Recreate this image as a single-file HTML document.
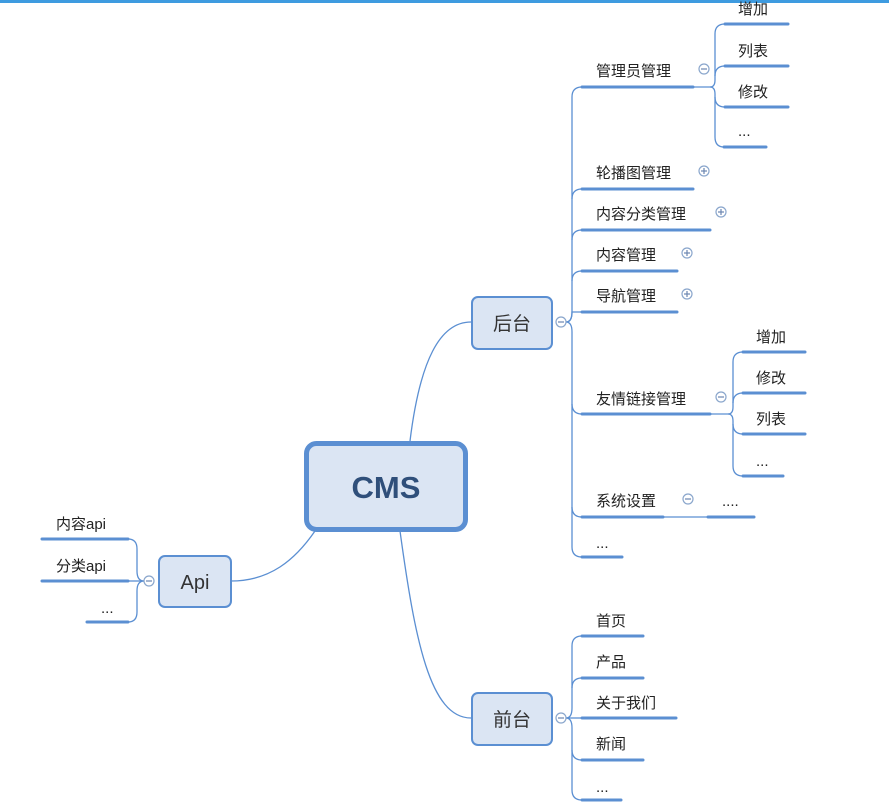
<!DOCTYPE html>
<html><head><meta charset="utf-8"><style>
html,body{margin:0;padding:0;background:#fff;width:889px;height:811px;overflow:hidden}
svg text{font-family:"Liberation Sans","Noto Sans CJK SC",sans-serif;font-size:15px;fill:#222}
</style></head><body>
<svg width="889" height="811" viewBox="0 0 889 811" xmlns="http://www.w3.org/2000/svg">
<rect x="0" y="0" width="889" height="3" fill="#3e9be0"/>
<g fill="none" stroke="#5b8fd2" stroke-width="1.3">
<path d="M410,441 C420,360 440,322 471,322"/>
<path d="M231,581 C270,581 295,560 315,531"/>
<path d="M400,531 C415,640 430,718 471,718"/>
<!-- 后台 trunk -->
<path d="M566,322 Q572,322 572,312 L572,97 Q572,87 582,87"/>
<path d="M572,199 Q572,189 582,189"/>
<path d="M572,240 Q572,230 582,230"/>
<path d="M572,281 Q572,271 582,271"/>
<path d="M566,322 Q572,322 572,312 Q572,312 582,312"/>
<path d="M566,322 Q572,322 572,332 L572,547 Q572,557 582,557"/>
<path d="M572,404 Q572,414 582,414"/>
<path d="M572,507 Q572,517 582,517"/>
<!-- 管理员 sub -->
<path d="M693,87 L710,87 Q715,87 715,80 L715,34 Q715,24 725,24"/>
<path d="M715,76 Q715,66 725,66"/>
<path d="M710,87 Q715,87 715,94 L715,137 Q715,147 724,147"/>
<path d="M715,97 Q715,107 725,107"/>
<!-- 友情 sub -->
<path d="M710,414 L728,414 Q733,414 733,407 L733,362 Q733,352 743,352"/>
<path d="M733,403 Q733,393 743,393"/>
<path d="M728,414 Q733,414 733,421 L733,466 Q733,476 743,476"/>
<path d="M733,424 Q733,434 743,434"/>
<path d="M663,517 L708,517"/>
<!-- 前台 -->
<path d="M566,718 Q572,718 572,708 L572,646 Q572,636 582,636"/>
<path d="M572,688 Q572,678 582,678"/>
<path d="M566,718 L582,718"/>
<path d="M566,718 Q572,718 572,728 L572,790 Q572,800 582,800"/>
<path d="M572,750 Q572,760 582,760"/>
<!-- Api -->
<path d="M144,581 Q137,581 137,571 L137,549 Q137,539 128,539"/>
<path d="M144,581 L128,581"/>
<path d="M144,581 Q137,581 137,591 L137,612 Q137,622 128,622"/>
</g>
<g stroke="#5b8fd2" stroke-width="3" stroke-linecap="round">
<line x1="582" y1="87" x2="693" y2="87"/>
<line x1="725" y1="24" x2="788" y2="24"/>
<line x1="725" y1="66" x2="788" y2="66"/>
<line x1="725" y1="107" x2="788" y2="107"/>
<line x1="724" y1="147" x2="766" y2="147"/>
<line x1="582" y1="189" x2="693" y2="189"/>
<line x1="582" y1="230" x2="710" y2="230"/>
<line x1="582" y1="271" x2="677" y2="271"/>
<line x1="582" y1="312" x2="677" y2="312"/>
<line x1="582" y1="414" x2="710" y2="414"/>
<line x1="743" y1="352" x2="805" y2="352"/>
<line x1="743" y1="393" x2="805" y2="393"/>
<line x1="743" y1="434" x2="805" y2="434"/>
<line x1="743" y1="476" x2="783" y2="476"/>
<line x1="582" y1="517" x2="663" y2="517"/>
<line x1="708" y1="517" x2="754" y2="517"/>
<line x1="582" y1="557" x2="622" y2="557"/>
<line x1="582" y1="636" x2="643" y2="636"/>
<line x1="582" y1="678" x2="643" y2="678"/>
<line x1="582" y1="718" x2="676" y2="718"/>
<line x1="582" y1="760" x2="643" y2="760"/>
<line x1="582" y1="800" x2="621" y2="800"/>
<line x1="42" y1="539" x2="128" y2="539"/>
<line x1="42" y1="581" x2="128" y2="581"/>
<line x1="87" y1="622" x2="128" y2="622"/>
</g>
<g fill="#fff" stroke="#8aa6cc" stroke-width="1.2">
<circle cx="561" cy="322" r="5"/><circle cx="561" cy="718" r="5"/><circle cx="149" cy="581" r="5"/>
<circle cx="704" cy="69" r="5"/><circle cx="721" cy="397" r="5"/><circle cx="688" cy="499" r="5"/>
<circle cx="704" cy="171" r="5"/><circle cx="721" cy="212" r="5"/><circle cx="687" cy="253" r="5"/><circle cx="687" cy="294" r="5"/>
</g>
<g stroke="#6a86b0" stroke-width="1.2">
<line x1="558" y1="322" x2="564" y2="322"/><line x1="558" y1="718" x2="564" y2="718"/><line x1="146" y1="581" x2="152" y2="581"/>
<line x1="701" y1="69" x2="707" y2="69"/><line x1="718" y1="397" x2="724" y2="397"/><line x1="685" y1="499" x2="691" y2="499"/>
<line x1="701" y1="171" x2="707" y2="171"/><line x1="704" y1="168" x2="704" y2="174"/>
<line x1="718" y1="212" x2="724" y2="212"/><line x1="721" y1="209" x2="721" y2="215"/>
<line x1="684" y1="253" x2="690" y2="253"/><line x1="687" y1="250" x2="687" y2="256"/>
<line x1="684" y1="294" x2="690" y2="294"/><line x1="687" y1="291" x2="687" y2="297"/>
</g>
<rect x="306.5" y="443.5" width="159" height="86" rx="10" fill="#dbe5f3" stroke="#5b8fd2" stroke-width="5"/>
<text x="386" y="498" text-anchor="middle" style="font-size:31px;font-weight:bold;fill:#2f4f7a">CMS</text>
<rect x="472" y="297" width="80" height="52" rx="6" fill="#dbe5f3" stroke="#5b8fd2" stroke-width="2"/>
<text x="512" y="330" text-anchor="middle" style="font-size:19px;fill:#333">后台</text>
<rect x="472" y="693" width="80" height="52" rx="6" fill="#dbe5f3" stroke="#5b8fd2" stroke-width="2"/>
<text x="512" y="726" text-anchor="middle" style="font-size:19px;fill:#333">前台</text>
<rect x="159" y="556" width="72" height="51" rx="6" fill="#dbe5f3" stroke="#5b8fd2" stroke-width="2"/>
<text x="195" y="589" text-anchor="middle" style="font-size:20px;fill:#333">Api</text>
<text x="596" y="76">管理员管理</text>
<text x="738" y="14">增加</text>
<text x="738" y="56">列表</text>
<text x="738" y="97">修改</text>
<text x="738" y="136">...</text>
<text x="596" y="178">轮播图管理</text>
<text x="596" y="219">内容分类管理</text>
<text x="596" y="260">内容管理</text>
<text x="596" y="301">导航管理</text>
<text x="596" y="404">友情链接管理</text>
<text x="756" y="342">增加</text>
<text x="756" y="383">修改</text>
<text x="756" y="424">列表</text>
<text x="756" y="466">...</text>
<text x="596" y="506">系统设置</text>
<text x="722" y="506">....</text>
<text x="596" y="548">...</text>
<text x="596" y="626">首页</text>
<text x="596" y="667">产品</text>
<text x="596" y="708">关于我们</text>
<text x="596" y="749">新闻</text>
<text x="596" y="792">...</text>
<text x="56" y="529">内容api</text>
<text x="56" y="571">分类api</text>
<text x="101" y="613">...</text>
</svg>
</body></html>
